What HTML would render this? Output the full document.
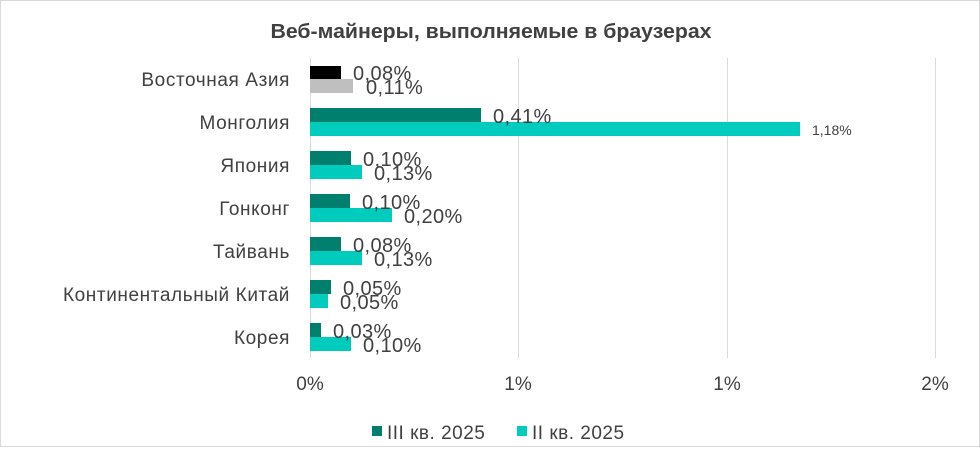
<!DOCTYPE html>
<html><head><meta charset="utf-8"><style>
body{margin:0;background:#fff;}
svg text{font-family:"Liberation Sans",sans-serif;fill:#404040;}
</style></head><body>
<svg width="980" height="448" viewBox="0 0 980 448" xmlns="http://www.w3.org/2000/svg">
<rect x="0.5" y="0.5" width="979" height="446" fill="#fff" stroke="#d9d9d9"/>
<text x="491" y="38" text-anchor="middle" font-size="20" font-weight="bold" fill="#595959" textLength="441" lengthAdjust="spacingAndGlyphs">Веб-майнеры, выполняемые в браузерах</text>
<g stroke="#d9d9d9" stroke-width="1">
<line x1="518.5" y1="58" x2="518.5" y2="358"/>
<line x1="727.5" y1="58" x2="727.5" y2="358"/>
<line x1="935.5" y1="58" x2="935.5" y2="358"/>
<line x1="310.5" y1="58" x2="310.5" y2="358"/>
</g>
<g font-size="19" text-anchor="end" letter-spacing="0.6">
<text x="290" y="86">Восточная Азия</text>
<text x="290" y="129">Монголия</text>
<text x="290" y="172">Япония</text>
<text x="290" y="215">Гонконг</text>
<text x="290" y="258">Тайвань</text>
<text x="290" y="301">Континентальный Китай</text>
<text x="290" y="344">Корея</text>
</g>
<rect x="310" y="66" width="31" height="13" fill="#000"/>
<rect x="310" y="79" width="43" height="14" fill="#bfbfbf"/>
<rect x="310" y="108" width="171" height="14" fill="#007f6e"/>
<rect x="310" y="122" width="490" height="14" fill="#00ccbe"/>
<rect x="310" y="151" width="41" height="14" fill="#007f6e"/>
<rect x="310" y="165" width="52" height="14" fill="#00ccbe"/>
<rect x="310" y="194" width="40" height="14" fill="#007f6e"/>
<rect x="310" y="208" width="82" height="14" fill="#00ccbe"/>
<rect x="310" y="237" width="31" height="14" fill="#007f6e"/>
<rect x="310" y="251" width="52" height="14" fill="#00ccbe"/>
<rect x="310" y="280" width="21" height="14" fill="#007f6e"/>
<rect x="310" y="294" width="18" height="14" fill="#00ccbe"/>
<rect x="310" y="323" width="11" height="14" fill="#007f6e"/>
<rect x="310" y="337" width="41" height="14" fill="#00ccbe"/>
<g font-size="20" letter-spacing="0.4">
<text x="353" y="80">0,08%</text>
<text x="366" y="94">0,11%</text>
<text x="493" y="123">0,41%</text>
<text x="812" y="135" font-size="14" letter-spacing="0">1,18%</text>
<text x="363" y="166">0,10%</text>
<text x="374" y="180">0,13%</text>
<text x="362" y="209">0,10%</text>
<text x="404" y="223">0,20%</text>
<text x="353" y="252">0,08%</text>
<text x="374" y="266">0,13%</text>
<text x="343" y="295">0,05%</text>
<text x="340" y="309">0,05%</text>
<text x="333" y="338">0,03%</text>
<text x="363" y="352">0,10%</text>
</g>
<g font-size="19" text-anchor="middle">
<text x="310" y="390">0%</text>
<text x="518" y="390">1%</text>
<text x="727" y="390">1%</text>
<text x="935" y="390">2%</text>
</g>
<rect x="372" y="426" width="10" height="10" fill="#007f6e"/>
<text x="387" y="439" font-size="19" letter-spacing="0.5">III кв. 2025</text>
<rect x="517" y="426" width="10" height="10" fill="#00ccbe"/>
<text x="532" y="439" font-size="19" letter-spacing="0.5">II кв. 2025</text>
</svg>
</body></html>
